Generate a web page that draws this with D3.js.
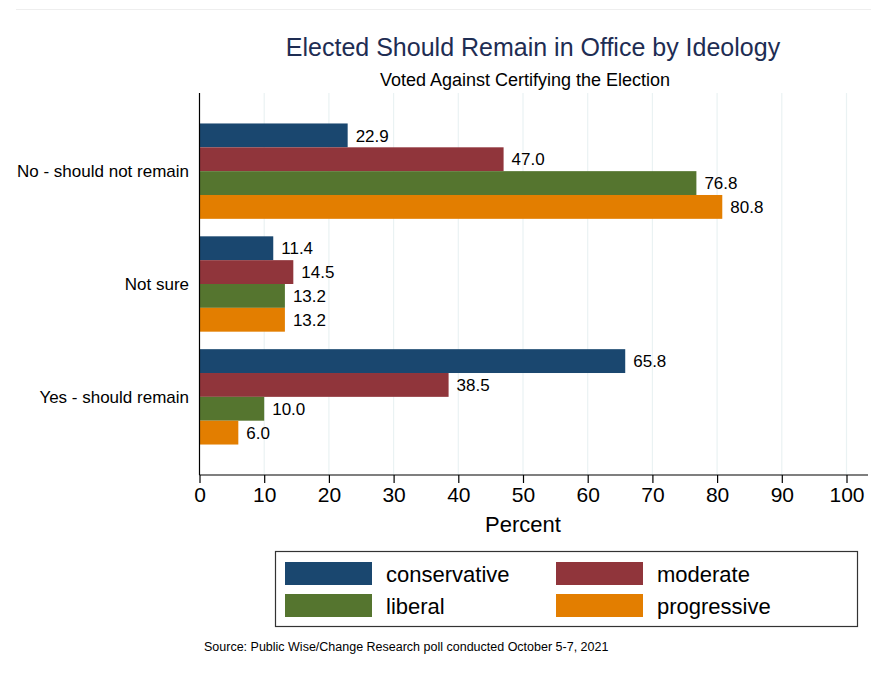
<!DOCTYPE html>
<html>
<head>
<meta charset="utf-8">
<script src="https://cdn.jsdelivr.net/npm/d3@7"></script>
<style>
  body { margin: 0; background: #fff; }
  text { font-family: "Liberation Sans", Arial, Helvetica, sans-serif; }
</style>
</head>
<body>
<script>
// data
var categories = ['No - should not remain', 'Not sure', 'Yes - should remain'];
var ideologies = ['conservative', 'moderate', 'liberal', 'progressive'];
var conservative = [22.9, 11.4, 65.8];
var moderate = [47.0, 14.5, 38.5];
var liberal = [76.8, 13.2, 10.0];
var progressive = [80.8, 13.2, 6.0];
var xTicks = [0, 10, 20, 30, 40, 50, 60, 70, 80, 90, 100];
var colors = ['#1a476f', '#90353b', '#55752f', '#e37e00'];

var series = [conservative, moderate, liberal, progressive];

var width = 871;
var height = 679;

var svg = d3.select('body').append('svg')
  .attr('width', width)
  .attr('height', height);

// faint line along the top
svg.append('line')
  .attr('x1', 16).attr('x2', width)
  .attr('y1', 9.5).attr('y2', 9.5)
  .attr('stroke', '#eeeeee').attr('stroke-width', 1);

var plotLeft = 199.5, plotRight = 846.5, plotTop = 93, plotBottom = 475;

var x = d3.scaleLinear().domain([0, 100]).range([plotLeft, plotRight]);

var y0 = d3.scaleBand().domain(categories)
  .range([plotTop, plotBottom])
  .paddingInner(0.155)
  .paddingOuter(0.27);

var y1 = d3.scaleBand().domain(ideologies)
  .range([0, y0.bandwidth()])
  .padding(0);

// gridlines
svg.append('g').selectAll('line')
  .data(xTicks.slice(1))
  .enter().append('line')
  .attr('x1', function(d) { return x(d); })
  .attr('x2', function(d) { return x(d); })
  .attr('y1', plotTop).attr('y2', plotBottom)
  .attr('stroke', '#eaf2f3')
  .attr('stroke-width', 1.2);

// bars
var groups = svg.append('g').selectAll('g')
  .data(categories)
  .enter().append('g')
  .attr('transform', function(d) { return 'translate(0,' + y0(d) + ')'; });

groups.each(function(cat, ci) {
  var g = d3.select(this);
  ideologies.forEach(function(ideo, si) {
    var v = series[si][ci];
    g.append('rect')
      .attr('x', x(0))
      .attr('y', y1(ideo))
      .attr('width', x(v) - x(0))
      .attr('height', y1.bandwidth())
      .attr('fill', colors[si]);
    g.append('text')
      .attr('x', x(v) + 8)
      .attr('y', y1(ideo) + y1.bandwidth() / 2)
      .attr('dy', '0.36em')
      .attr('font-size', 17)
      .attr('fill', '#000')
      .text(v.toFixed(1));
  });
});

// category labels
svg.append('g').selectAll('text')
  .data(categories)
  .enter().append('text')
  .attr('x', 189)
  .attr('y', function(d) { return y0(d) + y0.bandwidth() / 2; })
  .attr('dy', '0.36em')
  .attr('text-anchor', 'end')
  .attr('font-size', 17)
  .text(function(d) { return d; });

// y axis line
svg.append('line')
  .attr('x1', plotLeft).attr('x2', plotLeft)
  .attr('y1', plotTop).attr('y2', plotBottom)
  .attr('stroke', '#000').attr('stroke-width', 1.2);

// x axis
var xAxis = svg.append('g')
  .attr('transform', 'translate(0,' + plotBottom + ')')
  .call(d3.axisBottom(x).tickValues(xTicks).tickSize(8).tickPadding(4).tickSizeOuter(0));
xAxis.select('.domain').attr('stroke', '#000').attr('stroke-width', 1.2)
  .attr('d', 'M' + plotLeft + ',0H' + (width - 3));
xAxis.selectAll('.tick line').attr('stroke', '#000').attr('stroke-width', 1.2);
xAxis.selectAll('.tick text')
  .attr('font-size', 21)
  .attr('font-family', '"Liberation Sans", Arial, sans-serif')
  .attr('fill', '#000');

svg.append('text')
  .attr('x', (plotLeft + plotRight) / 2)
  .attr('y', 532)
  .attr('text-anchor', 'middle')
  .attr('font-size', 22)
  .text('Percent');

// titles
svg.append('text')
  .attr('x', 533)
  .attr('y', 56)
  .attr('text-anchor', 'middle')
  .attr('font-size', 25)
  .attr('fill', '#1e2d53')
  .text('Elected Should Remain in Office by Ideology');

svg.append('text')
  .attr('x', 525)
  .attr('y', 86)
  .attr('text-anchor', 'middle')
  .attr('font-size', 18)
  .text('Voted Against Certifying the Election');

// legend
var legend = svg.append('g');
legend.append('rect')
  .attr('x', 275.5).attr('y', 551.5)
  .attr('width', 582).attr('height', 75)
  .attr('fill', '#fff')
  .attr('stroke', '#333').attr('stroke-width', 1.2);

var legendPos = [[285, 562], [556, 562], [285, 594], [556, 594]];
ideologies.forEach(function(ideo, i) {
  var p = legendPos[i];
  legend.append('rect')
    .attr('x', p[0]).attr('y', p[1])
    .attr('width', 87).attr('height', 23)
    .attr('fill', colors[i]);
  legend.append('text')
    .attr('x', p[0] + 101)
    .attr('y', p[1] + 12)
    .attr('dy', '0.36em')
    .attr('font-size', 22)
    .text(ideo);
});

// source note
svg.append('text')
  .attr('x', 204)
  .attr('y', 651)
  .attr('font-size', 12.5)
  .text('Source: Public Wise/Change Research poll conducted October 5-7, 2021');
</script>
</body>
</html>
